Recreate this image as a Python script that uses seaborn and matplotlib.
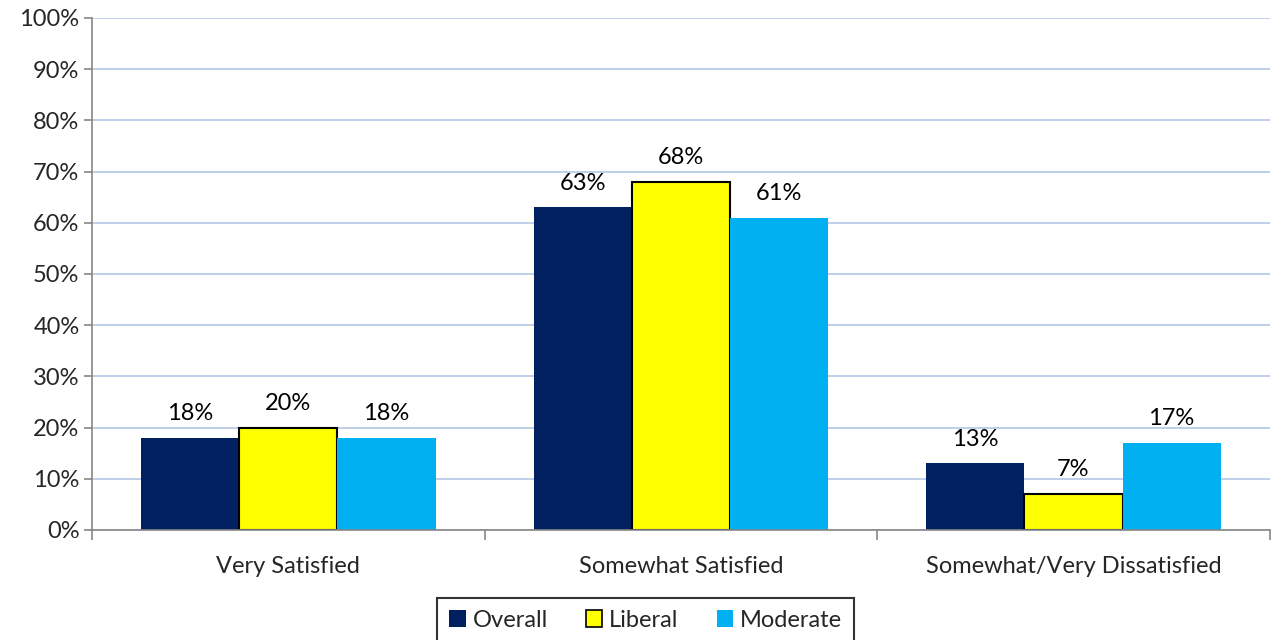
import pandas as pd
import matplotlib.pyplot as plt
import seaborn as sns
from matplotlib.ticker import PercentFormatter, FixedLocator
from matplotlib.patches import Patch

# data
categories = ["Very Satisfied", "Somewhat Satisfied", "Somewhat/Very Dissatisfied"]
groups = ["Overall", "Liberal", "Moderate"]
overall = [18, 63, 13]
liberal = [20, 68, 7]
moderate = [18, 61, 17]

colors = {"Overall": "#002060", "Liberal": "#FFFF00", "Moderate": "#00B0F0"}

rows = []
for g, vals in zip(groups, [overall, liberal, moderate]):
    for c, v in zip(categories, vals):
        rows.append({"Category": c, "Group": g, "Value": v})
df = pd.DataFrame(rows)

sns.set_theme(style="white")
plt.rcParams['font.family'] = ['Lato', 'DejaVu Sans']
fs = 17

fig = plt.figure(figsize=(12.71, 6.40), dpi=100)
ax = fig.add_axes([92 / 1271, 1 - 530 / 640, 1 - 92 / 1271 - 0.001, (530 - 18) / 640])

sns.barplot(data=df, x="Category", y="Value", hue="Group", order=categories,
            hue_order=groups, palette=colors, width=0.75, gap=0,
            saturation=1, legend=False, ax=ax)

# black outline only on the Liberal bars
for container, g in zip(ax.containers, groups):
    for bar in container:
        if g == "Liberal":
            bar.set_edgecolor("black")
            bar.set_linewidth(1.5)
        else:
            bar.set_linewidth(0)
    ax.bar_label(container, labels=[f"{int(round(b.get_height()))}%" for b in container],
                 padding=10, fontsize=fs, color="black")

ax.set_ylim(0, 100)
ax.set_xlim(-0.5, 2.5)
ax.set_yticks(range(0, 101, 10))
ax.yaxis.set_major_formatter(PercentFormatter(decimals=0))
ax.yaxis.grid(True, color="#B4C7E7", linewidth=1.2)
ax.set_axisbelow(True)

ax.xaxis.set_minor_locator(FixedLocator([-0.5, 0.5, 1.5, 2.5]))
ax.tick_params(axis="x", which="major", length=0, pad=19, labelsize=fs)
ax.tick_params(axis="x", which="minor", length=7, color="#868686", width=1.2, direction="out", bottom=True)
ax.tick_params(axis="y", length=6, color="#868686", width=1.2, direction="out", left=True, labelsize=fs, pad=3)

for side in ["top", "right"]:
    ax.spines[side].set_visible(False)
for side in ["left", "bottom"]:
    ax.spines[side].set_color("#868686")
    ax.spines[side].set_linewidth(1.2)

ax.set_xlabel("")
ax.set_ylabel("")

handles = [Patch(facecolor=colors["Overall"], edgecolor="none"),
           Patch(facecolor=colors["Liberal"], edgecolor="black", linewidth=1.2),
           Patch(facecolor=colors["Moderate"], edgecolor="none")]
leg = fig.legend(handles, groups, loc="upper center", bbox_to_anchor=(0.508, 1 - 598 / 640),
                 ncol=3, frameon=True, fancybox=False, edgecolor="black", fontsize=fs,
                 handlelength=0.7, handleheight=0.7, handletextpad=0.3, columnspacing=1.6,
                 borderpad=0.5, borderaxespad=0)
leg.get_frame().set_linewidth(1.5)

fig.savefig("out.png", dpi=100)
